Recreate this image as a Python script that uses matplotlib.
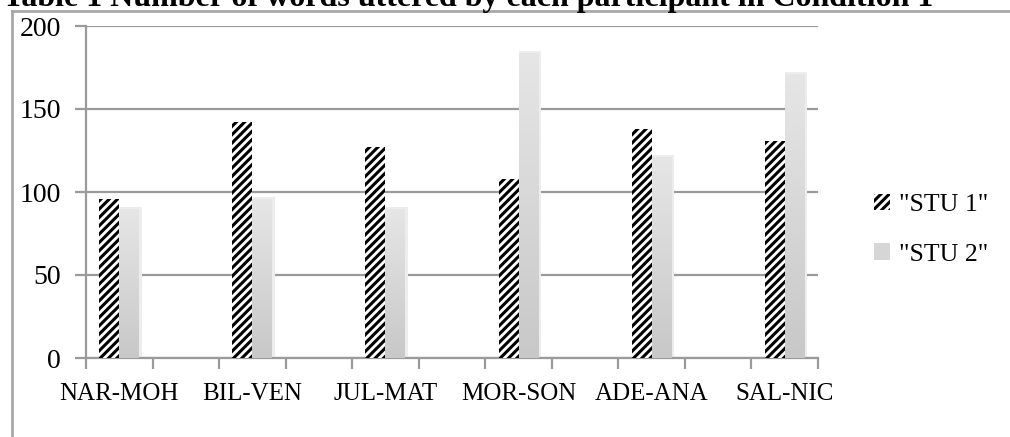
import matplotlib
matplotlib.use("Agg")
import matplotlib.pyplot as plt
import numpy as np
from matplotlib.patches import Rectangle
from matplotlib.lines import Line2D

# Data
pairs = ["NAR-MOH", "BIL-VEN", "JUL-MAT", "MOR-SON", "ADE-ANA", "SAL-NIC"]
stu1 = [96, 142, 127, 108, 138, 131]
stu2 = [90, 96, 90, 184, 121, 171]
series_names = ['"STU 1"', '"STU 2"']
title = "Table 1 Number of words uttered by each participant in Condition 1"

SERIF = "Liberation Serif"
plt.rcParams["hatch.linewidth"] = 2.2

fig = plt.figure(figsize=(10.10, 4.37), dpi=100)
W, H = 1010, 437

# title (cut at the top, as in the scanned page)
fig.text(3 / W, 1 - 6 / H, title, fontsize=23, fontweight="bold", family=SERIF,
         ha="left", va="baseline")

# outer frame of the chart object
fig.add_artist(Line2D([12 / W, 12 / W], [0, 1 - 11 / H], transform=fig.transFigure,
                      color="#a8a8a8", lw=2))
fig.add_artist(Line2D([12 / W, 1], [1 - 11 / H, 1 - 11 / H], transform=fig.transFigure,
                      color="#a8a8a8", lw=2))

ax = fig.add_axes([86 / W, 1 - 358 / H, (818 - 86) / W, (358 - 26) / H])

# every second slot is an empty category in the original sheet
n_slots = 2 * len(pairs) - 1
centers = np.arange(len(pairs)) * 2
bw = 0.3

grad = np.linspace(0, 1, 256).reshape(-1, 1)
gray_cmap = matplotlib.colors.LinearSegmentedColormap.from_list(
    "g", ["#c8c8c8", "#e6e6e6"])

for c, v1, v2 in zip(centers, stu1, stu2):
    ax.bar(c - bw / 2, v1, width=bw, facecolor="white", edgecolor="black",
           linewidth=0, hatch="////", zorder=3)
    # soft shadow + gradient gray bar
    ax.add_patch(Rectangle((c + 0.01, 0), bw + 0.03, v2 + 1, color="#ededed",
                           zorder=2.5, lw=0))
    r = Rectangle((c, 0), bw, v2, facecolor="none", edgecolor="none", zorder=3)
    ax.add_patch(r)
    im = ax.imshow(grad, cmap=gray_cmap, aspect="auto", origin="lower",
                   extent=(c, c + bw, 0, v2), zorder=3)
    im.set_clip_path(r)

ax.set_xlim(-0.5, n_slots - 0.5)
ax.set_ylim(0, 200)
ax.set_yticks([0, 50, 100, 150, 200])
ax.yaxis.grid(True, color="#9a9a9a", lw=1.6)
ax.set_axisbelow(True)

ax.set_xticks(np.arange(n_slots + 1) - 0.5)
ax.set_xticklabels([])
ax.set_xticks(centers, minor=True)
ax.set_xticklabels(pairs, minor=True, fontsize=18, family=SERIF)
ax.tick_params(axis="x", which="minor", length=0, pad=18)
ax.tick_params(axis="x", which="major", length=8, width=1.6, color="#9a9a9a")
ax.tick_params(axis="y", length=8, width=1.6, color="#9a9a9a", labelsize=20,
               pad=10)
for lab in ax.get_yticklabels():
    lab.set_family(SERIF)

for side in ["top", "right"]:
    ax.spines[side].set_visible(False)
for side in ["left", "bottom"]:
    ax.spines[side].set_color("#9a9a9a")
    ax.spines[side].set_linewidth(1.6)

# legend
h1 = Rectangle((0, 0), 1, 1, facecolor="white", edgecolor="black", lw=0,
               hatch="////")
h2 = Rectangle((0, 0), 1, 1, facecolor="#d6d6d6", edgecolor="none")
fig.legend([h1, h2], series_names, loc="upper left",
           bbox_to_anchor=(851 / W, 1 - 171 / H), frameon=False,
           prop={"family": SERIF, "size": 18.5}, handlelength=0.6,
           handleheight=0.6, handletextpad=0.35, labelspacing=1.05)

fig.savefig("out.png", dpi=100, facecolor="white")
